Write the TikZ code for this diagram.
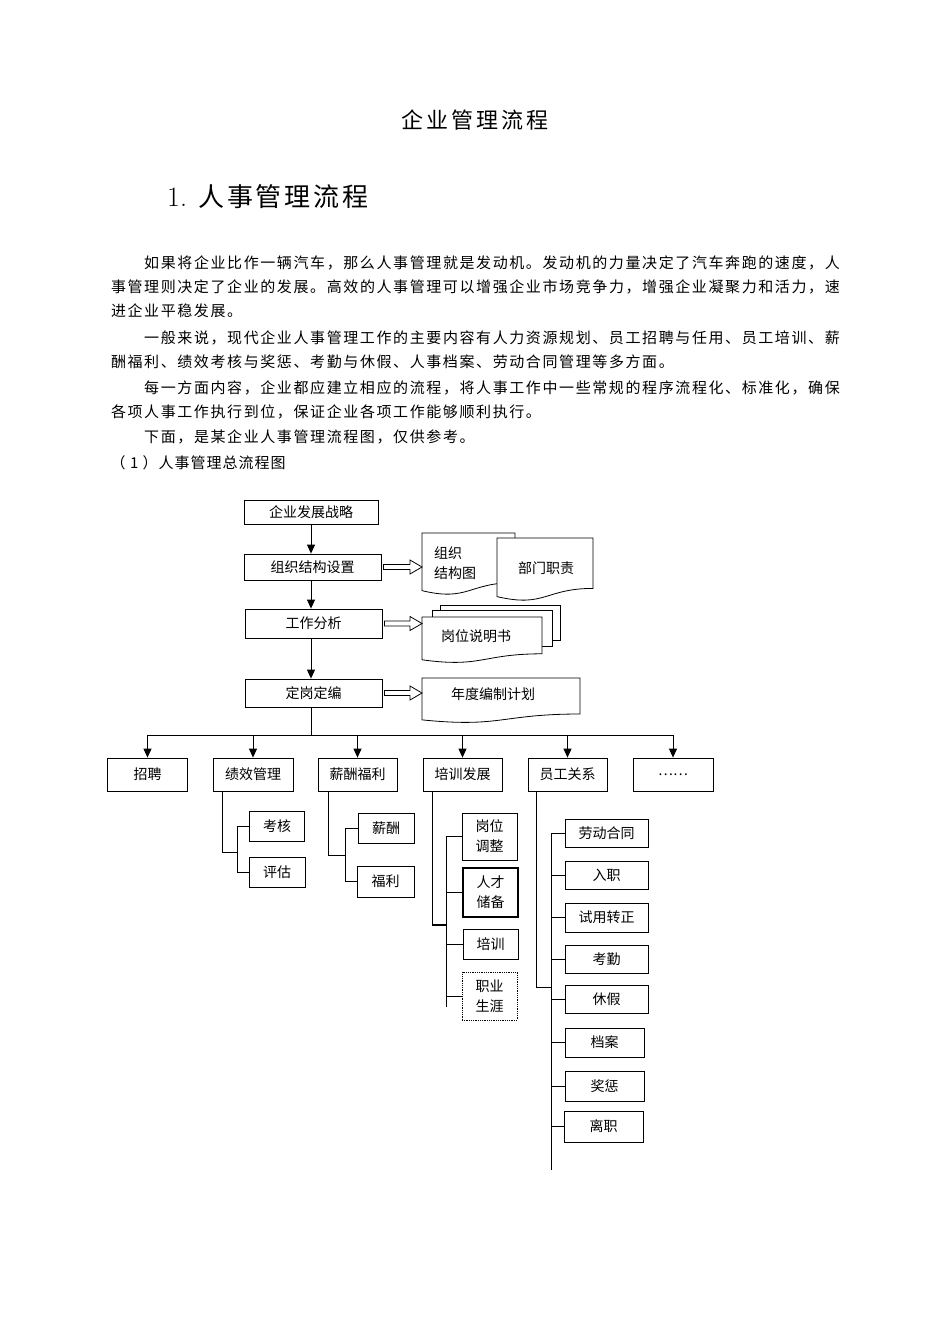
\documentclass[tikz,border=0pt]{standalone}
\usepackage{fontspec}
\newfontfamily\cjk{Noto Sans CJK SC}
\usetikzlibrary{arrows.meta,calc}
\newdimen\cw
\def\gridtext#1{\gridloop#1\relax}
\def\gridloop#1{\ifx\relax#1\else\hbox to \cw{\hss#1\hss}\expandafter\gridloop\fi}
\newcommand\docshape[4]{%
  \draw[docln] (#1,#2) -- (#3,#2) -- (#3,{#2+0.8*#4})
    .. controls ({(#1+#3)/2},{#2+0.8*#4}) and ({(#1+#3)/2},{#2+1.11*#4}) .. (#1,{#2+0.93*#4}) -- cycle;}
\newcommand\hollowarrow[2]{%
  \draw[harrow] let \p1=(#1), \p2=(#2) in
   (\x1+2pt,\y1+2.5pt) -- (\x2-12pt,\y1+2.5pt) -- (\x2-12pt,\y1+7pt) -- (\x2,\y1)
   -- (\x2-12pt,\y1-7pt) -- (\x2-12pt,\y1-2.5pt) -- (\x1+2pt,\y1-2.5pt) -- cycle;}
\begin{document}
\begin{tikzpicture}[x=1pt,y=-1pt,
  box/.style={draw, line width=0.8pt, inner sep=0pt, fill=white, align=center,
    font=\cjk\fontsize{14}{20}\selectfont},
  ln/.style={line width=0.8pt},
  thk/.style={line width=1.4pt},
  arr/.style={line width=0.9pt, -{Triangle[width=8pt,length=9pt]}},
  docln/.style={draw, line width=0.8pt, fill=white},
  harrow/.style={draw, line width=0.8pt, fill=white},
  doctext/.style={inner sep=0pt, align=left, font=\cjk\fontsize{14}{20}\selectfont},
  para/.style={anchor=base west, inner sep=0pt, font=\cjk\fontsize{15}{15}\selectfont}]
\path[fill=white] (0,0) rectangle (950,1344);
\useasboundingbox (0,0) rectangle (950,1344);

% ---- title and heading
\node[anchor=base west, inner sep=0pt, font=\cjk\fontsize{22}{22}\selectfont] (title) at (400,128)
  {\cw=25pt\gridtext{企业管理流程}};
\node[anchor=base west, inner sep=0pt, font=\fontsize{28}{28}\selectfont] (hnum) at (167,206) {1.};
\node[anchor=base west, inner sep=0pt, font=\cjk\fontsize{26}{26}\selectfont] (head) at (197,206)
  {\cw=28.7pt\gridtext{人事管理流程}};

% ---- paragraphs
\node[para] (p1) at (143.2,268.7) {\cw=16.6pt\gridtext{如果将企业比作一辆汽车，那么人事管理就是发动机。发动机的力量决定了汽车奔跑的速度，人}};
\node[para] (p2) at (110,292.7) {\cw=16.6pt\gridtext{事管理则决定了企业的发展。高效的人事管理可以增强企业市场竞争力，增强企业凝聚力和活力，速}};
\node[para] (p3) at (110,316.7) {\cw=16.6pt\gridtext{进企业平稳发展。}};
\node[para] (p4) at (143.2,343.7) {\cw=16.6pt\gridtext{一般来说，现代企业人事管理工作的主要内容有人力资源规划、员工招聘与任用、员工培训、薪}};
\node[para] (p5) at (110,367.7) {\cw=16.6pt\gridtext{酬福利、绩效考核与奖惩、考勤与休假、人事档案、劳动合同管理等多方面。}};
\node[para] (p6) at (143.2,393.7) {\cw=16.6pt\gridtext{每一方面内容，企业都应建立相应的流程，将人事工作中一些常规的程序流程化、标准化，确保}};
\node[para] (p7) at (110,417.7) {\cw=16.6pt\gridtext{各项人事工作执行到位，保证企业各项工作能够顺利执行。}};
\node[para] (p8) at (143.2,442.7) {\cw=16.6pt\gridtext{下面，是某企业人事管理流程图，仅供参考。}};
\node[para] (p9) at (110,468.7) {\cw=16pt\gridtext{（1）人事管理总流程图}};

% ---- main column
\node[box, minimum width=134, minimum height=24] (zl) at (311,512) {企业发展战略};
\node[box, minimum width=137, minimum height=26] (zz) at (312.5,567) {组织结构设置};
\node[box, minimum width=137, minimum height=29] (gz) at (313.5,623.5) {工作分析};
\node[box, minimum width=137, minimum height=28] (dg) at (313.5,693) {定岗定编};
\draw[arr] (zl.south) -- (zl.south |- zz.north);
\draw[arr] (zl.south |- zz.south) -- (zl.south |- gz.north);
\draw[arr] (zl.south |- gz.south) -- (zl.south |- dg.north);

% ---- documents
\docshape{422}{533}{515}{62}
\node[doctext, anchor=west] (docAt) at (434,563) {组织\\结构图};
\docshape{497}{538}{593}{63}
\node[doctext] (docBt) at (546,568) {部门职责};
\draw[docln] (440,610) -- (440,605) -- (560,605) -- (560,640) -- (552,640);
\draw[docln] (432,617) -- (432,610) -- (552,610) -- (552,646) -- (542,646);
\docshape{422}{617}{542}{46}
\node[doctext] (docCt) at (476,636) {岗位说明书};
\docshape{422}{678}{580}{45}
\node[doctext] (docDt) at (493,694) {年度编制计划};
\coordinate (docA) at (422,567);
\coordinate (docC) at (422,624);
\coordinate (docD) at (422,693);
\hollowarrow{zz.east}{docA}
\hollowarrow{gz.east}{docC}
\hollowarrow{dg.east}{docD}

% ---- second level
\coordinate (barL) at (148,735);
\coordinate (barR) at (673,735);
\node[box, minimum width=80, minimum height=33] (zp) at (147.5,774.5) {招聘};
\node[box, minimum width=80, minimum height=33] (jx) at (253,774.5) {绩效管理};
\node[box, minimum width=79, minimum height=33] (xc) at (357.5,774.5) {薪酬福利};
\node[box, minimum width=79, minimum height=33] (px) at (462.5,774.5) {培训发展};
\node[box, minimum width=79, minimum height=33] (yg) at (567.5,774.5) {员工关系};
\node[box, minimum width=80, minimum height=33] (more) at (673,774.5) {……};
\draw[ln] (zl.south |- dg.south) -- (zl.south |- barL);
\draw[ln] (barL) -- (barR);
\foreach \n in {zp,jx,xc,px,yg,more}
  \draw[arr] (\n.north |- barL) -- (\n.north);

% ---- 绩效管理
\node[box, minimum width=55, minimum height=30] (kh) at (277,826.5) {考核};
\node[box, minimum width=56, minimum height=30] (pg) at (277,872) {评估};
\coordinate (jxj) at (237,852);
\draw[ln] ([xshift=10pt]jx.south west) |- (jxj);
\draw[ln] (kh.west) -| (jxj);
\draw[ln] (pg.west) -| (jxj);

% ---- 薪酬福利
\node[box, minimum width=56, minimum height=30] (xc1) at (386,828) {薪酬};
\node[box, minimum width=57, minimum height=31] (fl) at (385.5,881.5) {福利};
\coordinate (xcj) at (345,855);
\draw[ln] ([xshift=11pt]xc.south west) |- (xcj);
\draw[ln] (xc1.west) -| (xcj);
\draw[ln] (fl.west) -| (xcj);

% ---- 培训发展
\node[box, minimum width=55, minimum height=47] (gwtz) at (489.5,836.5) {岗位\\调整};
\node[box, minimum width=55, minimum height=49, line width=1.1pt] (rccb) at (490.5,892.5) {人才\\储备};
\node[box, minimum width=55, minimum height=30] (px1) at (490.5,944) {培训};
\node[box, minimum width=55, minimum height=48, densely dotted] (zysy) at (489.5,996) {职业\\生涯};
\coordinate (pxj) at (446,925);
\draw[thk] ([xshift=10pt]px.south west) |- (pxj);
\foreach \n in {gwtz,rccb,px1,zysy}
  \draw[ln] (\n.west) -| (pxj);
\draw[ln] (zysy.west -| pxj) -- ++(0,11);

% ---- 员工关系
\node[box, minimum width=83, minimum height=28] (ld) at (606.5,833) {劳动合同};
\node[box, minimum width=83, minimum height=28] (rz) at (606.5,875) {入职};
\node[box, minimum width=83, minimum height=29] (sy) at (606.5,917.5) {试用转正};
\node[box, minimum width=83, minimum height=28] (kq) at (606.5,959) {考勤};
\node[box, minimum width=83, minimum height=28] (xj) at (606.5,999) {休假};
\node[box, minimum width=79, minimum height=29] (da) at (604.5,1042.5) {档案};
\node[box, minimum width=79, minimum height=30] (jc) at (604.5,1086) {奖惩};
\node[box, minimum width=79, minimum height=31] (lz) at (603.5,1126.5) {离职};
\coordinate (ygj) at (551,987);
\draw[ln] ([xshift=9pt]yg.south west) |- (ygj);
\foreach \n in {ld,rz,sy,kq,xj,da,jc,lz}
  \draw[ln] (\n.west) -| (ygj);
\draw[ln] (lz.west -| ygj) -- ++(0,43.5);
\end{tikzpicture}
\end{document}
